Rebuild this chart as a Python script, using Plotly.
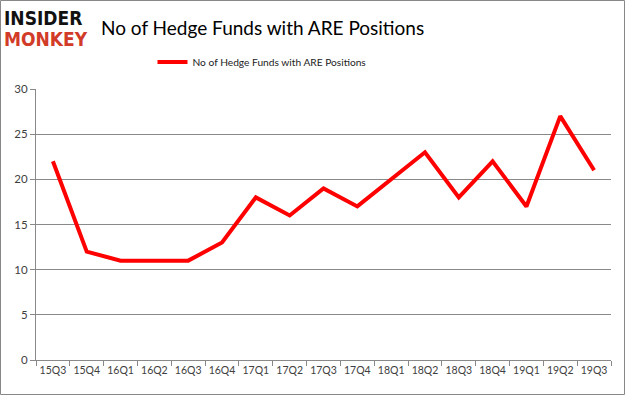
import plotly.graph_objects as go

quarters = ["15Q3", "15Q4", "16Q1", "16Q2", "16Q3", "16Q4", "17Q1", "17Q2", "17Q3",
            "17Q4", "18Q1", "18Q2", "18Q3", "18Q4", "19Q1", "19Q2", "19Q3"]
hedge_funds = [22, 12, 11, 11, 11, 13, 18, 16, 19, 17, 20, 23, 18, 22, 17, 27, 21]
series_name = "No of Hedge Funds with ARE Positions"
y_ticks = [0, 5, 10, 15, 20, 25, 30]

W, H = 625, 395
L, R, T, B = 36, 14, 89, 35
pw, ph = W - L - R, H - T - B

fig = go.Figure()
fig.add_trace(go.Scatter(
    x=quarters, y=hedge_funds, mode="lines", name=series_name,
    line=dict(color="#ff0000", width=4), showlegend=True,
))

def px_x(x):
    return (x - L) / pw

def px_y(y):
    return (H - B - y) / ph

fig.update_layout(
    width=W, height=H,
    margin=dict(l=L, r=R, t=T, b=B),
    paper_bgcolor="white", plot_bgcolor="white",
    font=dict(family="Lato, Liberation Sans, sans-serif", size=11, color="#404040"),
    showlegend=True,
    legend=dict(orientation="h", x=px_x(262), xanchor="center", y=px_y(62), yanchor="middle",
                font=dict(size=10.2, color="#222222"), bgcolor="rgba(0,0,0,0)",
                itemwidth=30),
    xaxis=dict(type="category", showgrid=False, showline=True, linecolor="#898989",
               ticks="outside", tickson="boundaries", ticklen=5, tickcolor="#898989",
               tickangle=0, tickfont=dict(size=10.5, color="#404040"), range=[-0.5, 16.5]),
    yaxis=dict(range=[0, 30], tickvals=y_ticks, showgrid=True, gridcolor="#898989",
               gridwidth=1, showline=True, linecolor="#898989", ticks="outside",
               ticklen=5, tickcolor="#898989", zeroline=False,
               tickfont=dict(size=11.5, color="#404040")),
    shapes=[dict(type="rect", xref="paper", yref="paper",
                 x0=px_x(0.5), x1=px_x(W - 0.5), y0=px_y(H - 0.5), y1=px_y(0.5),
                 line=dict(color="#888888", width=1), layer="above")],
    annotations=[
        dict(text="No of Hedge Funds with ARE Positions", xref="paper", yref="paper",
             x=px_x(262), y=px_y(27), xanchor="center", yanchor="middle", showarrow=False,
             font=dict(family="Lato, Liberation Sans, sans-serif", size=19, color="#000000")),
        dict(text="<b>INSIDER</b>", xref="paper", yref="paper",
             x=px_x(2), y=px_y(18), xanchor="left", yanchor="middle", showarrow=False,
             font=dict(family="DejaVu Sans Condensed, sans-serif", size=19, color="#111111")),
        dict(text="<b>MONKEY</b>", xref="paper", yref="paper",
             x=px_x(2), y=px_y(39), xanchor="left", yanchor="middle", showarrow=False,
             font=dict(family="DejaVu Sans Condensed, sans-serif", size=19, color="#d13b28")),
    ],
)

fig.write_html("out.html", config={"displayModeBar": False},
               post_script="document.body.style.margin='0';document.body.style.padding='0';")
